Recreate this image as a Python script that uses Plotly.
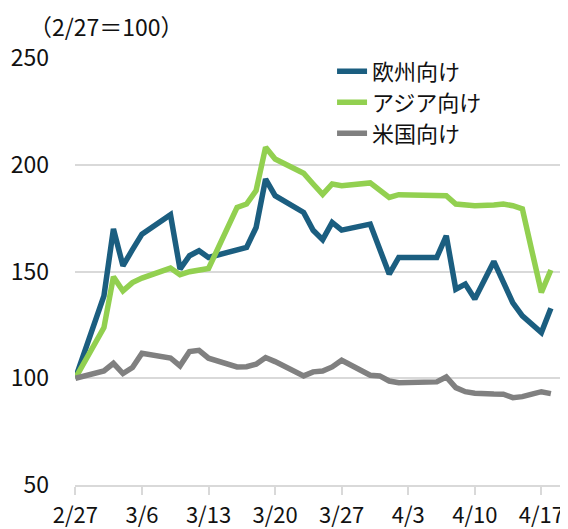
import pandas as pd
import plotly.graph_objects as go

# dates (business days, a few gaps) and index values (2/27 = 100)
dates = ['2015-02-27', '2015-03-02', '2015-03-03', '2015-03-04', '2015-03-05', '2015-03-06',
         '2015-03-09', '2015-03-10', '2015-03-11', '2015-03-12', '2015-03-13',
         '2015-03-16', '2015-03-17', '2015-03-18', '2015-03-19', '2015-03-20',
         '2015-03-23', '2015-03-24', '2015-03-25', '2015-03-26', '2015-03-27',
         '2015-03-30', '2015-03-31', '2015-04-01', '2015-04-02',
         '2015-04-06', '2015-04-07', '2015-04-08', '2015-04-09', '2015-04-10',
         '2015-04-12', '2015-04-13', '2015-04-14', '2015-04-15', '2015-04-16',
         '2015-04-17', '2015-04-18']

europe = [100, 138.6, 169.9, 152.7, 160.2, 167.5,
          176.6, 151.1, 157.4, 159.7, 156.6,
          159.7, 161.3, 170.6, 193.3, 185.5,
          177.7, 169.3, 164.9, 173.0, 169.4,
          172.2, 160.6, 148.8, 156.6,
          156.6, 166.7, 141.7, 144.1, 137.1,
          154.7, 145.0, 135.3, 129.2, 125.5,
          121.4, 132.8]

asia = [100, 123.7, 147.5, 140.9, 144.8, 146.9,
        151.6, 148.5, 149.9, 150.6, 151.4,
        180.0, 181.6, 187.9, 208.2, 202.7,
        196.0, 191.0, 186.1, 191.0, 190.2,
        191.5, 187.9, 184.7, 186.0,
        186.0, 185.5, 181.6, 181.3, 180.8,
        181.2, 181.6, 180.8, 179.3, 159.7,
        140.2, 150.7]

usa = [100, 103.4, 107.0, 102.2, 105.0, 111.7,
       109.5, 105.8, 112.5, 113.1, 109.4,
       105.3, 105.4, 106.6, 109.7, 107.8,
       101.1, 103.0, 103.4, 105.3, 108.4,
       101.4, 101.1, 98.7, 97.9,
       98.3, 100.6, 95.6, 93.7, 93.0,
       92.6, 92.5, 90.9, 91.4, 92.6,
       93.7, 92.8]

tick_dates = ['2015-02-27', '2015-03-06', '2015-03-13', '2015-03-20',
              '2015-03-27', '2015-04-03', '2015-04-10', '2015-04-17']
tick_text = ['2/27', '3/6', '3/13', '3/20', '3/27', '4/3', '4/10', '4/17']

x = pd.to_datetime(dates)
font = 'Noto Sans CJK JP'
txt = '#111111'

fig = go.Figure()
fig.add_trace(go.Scatter(x=x, y=europe, name='欧州向け', mode='lines', legend='legend',
                         line=dict(color='#1B5E80', width=5.5)))
fig.add_trace(go.Scatter(x=x, y=asia, name='アジア向け', mode='lines', legend='legend2',
                         line=dict(color='#92D050', width=5.5)))
fig.add_trace(go.Scatter(x=x, y=usa, name='米国向け', mode='lines', legend='legend3',
                         line=dict(color='#808080', width=5.5)))

fig.update_xaxes(
    type='date', automargin=False,
    range=['2015-02-26 23:00', '2015-04-18 23:00'],
    tickvals=pd.to_datetime(tick_dates), ticktext=tick_text,
    showgrid=False, showline=True, linecolor='#D9D9D9', linewidth=1.5,
    ticks='outside', ticklen=8, tickcolor='#D9D9D9', tickwidth=1.5,
    ticklabelstandoff=2,
    tickfont=dict(size=22, color=txt, family=font))

fig.update_yaxes(
    automargin=False,
    range=[50, 250], tickvals=[50, 100, 150, 200, 250],
    showgrid=True, gridcolor='#D9D9D9', gridwidth=1.5,
    zeroline=False, showline=False, ticks='',
    ticklabelstandoff=25,
    tickfont=dict(size=23, color=txt, family=font))

# page body has an 8px margin, so the figure is drawn 8px smaller
top = 50
plot_h = 427
fig.add_annotation(text='（2/27＝100）', xref='paper', yref='paper',
                   x=-0.1, y=1 + (top - 18) / plot_h, xanchor='left', yanchor='middle',
                   showarrow=False, font=dict(size=23, color=txt, family=font))

leg = dict(xanchor='left', yanchor='middle', bgcolor='rgba(0,0,0,0)',
           font=dict(size=22, color=txt, family=font))
lx = 0.53
fig.update_layout(
    width=560, height=521,
    margin=dict(l=67, r=8, t=top, b=44),
    plot_bgcolor='white', paper_bgcolor='white',
    showlegend=True,
    legend=dict(leg, x=lx, y=1 - 13.5 / plot_h),
    legend2=dict(leg, x=lx, y=1 - 44.5 / plot_h),
    legend3=dict(leg, x=lx, y=1 - 75.5 / plot_h))

fig.write_html('out.html')
